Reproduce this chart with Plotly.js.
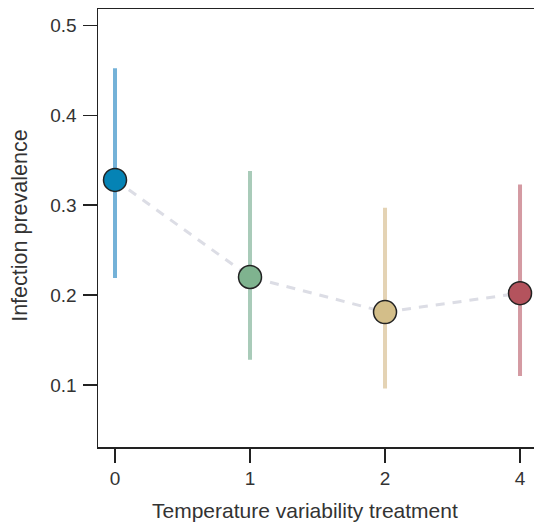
<!DOCTYPE html>
<html>
<head>
<meta charset="utf-8">
<script src="https://cdn.plot.ly/plotly-3.0.1.min.js"></script>
<style>
html,body{margin:0;padding:0;overflow:hidden;background:#fff;}
#chart{width:540px;height:522px;}
</style>
</head>
<body>
<div id="chart"></div>
<script>
const categories = ["0", "1", "2", "4"];
const prevalence = [0.328, 0.220, 0.181, 0.202];
const lower = [0.219, 0.128, 0.096, 0.110];
const upper = [0.452, 0.338, 0.297, 0.323];
const markerColors = ["#0583b5", "#7fb38f", "#d3be89", "#b4535d"];
const barColors = ["#74b2d8", "#a9cbb9", "#e4d3b4", "#d49aa2"];
const xTitle = "Temperature variability treatment";
const yTitle = "Infection prevalence";

const traces = [];
categories.forEach((c, i) => {
  traces.push({
    x: [c, c], y: [lower[i], upper[i]],
    type: "scatter", mode: "lines",
    line: {color: barColors[i], width: 4},
    hoverinfo: "skip", showlegend: false
  });
});
traces.push({
  x: categories, y: prevalence,
  type: "scatter", mode: "lines",
  line: {color: "#dcdde5", width: 3, dash: "9px,8px"},
  showlegend: false
});
traces.push({
  x: categories, y: prevalence,
  type: "scatter", mode: "markers",
  marker: {size: 23, color: markerColors, line: {color: "#222", width: 1.5}},
  showlegend: false
});

const layout = {
  width: 540, height: 522,
  margin: {l: 98, r: 0, t: 9, b: 75},
  paper_bgcolor: "#fff", plot_bgcolor: "#fff",
  font: {family: "Liberation Sans, Arial, sans-serif", color: "#333"},
  xaxis: {
    type: "category",
    range: [-0.126, 3.148],
    showgrid: false, zeroline: false,
    showline: true, mirror: true, linecolor: "#222", linewidth: 1.5,
    ticks: "outside", ticklen: 14, tickwidth: 1.2, tickcolor: "#222",
    ticklabelstandoff: 0,
    tickfont: {size: 19, color: "#333"}
  },
  yaxis: {
    range: [0.031, 0.518],
    tickvals: [0.1, 0.2, 0.3, 0.4, 0.5],
    ticktext: ["0.1", "0.2", "0.3", "0.4", "0.5"],
    showgrid: false, zeroline: false,
    showline: true, mirror: true, linecolor: "#222", linewidth: 1.5,
    ticks: "outside", ticklen: 14, tickwidth: 1.2, tickcolor: "#222",
    ticklabelstandoff: 2,
    tickfont: {size: 19, color: "#333"}
  },
  annotations: [{
    text: xTitle, xref: "paper", yref: "paper",
    x: 0.468, y: 0, xanchor: "center", yanchor: "middle",
    yshift: -63, showarrow: false,
    font: {size: 21, color: "#333"}
  }, {
    text: yTitle, xref: "paper", yref: "paper",
    x: 0, y: 0.505, xanchor: "center", yanchor: "middle",
    xshift: -78, textangle: -90, showarrow: false,
    font: {size: 21.5, color: "#333"}
  }]
};

Plotly.newPlot("chart", traces, layout, {displayModeBar: false, staticPlot: true});
</script>
</body>
</html>
